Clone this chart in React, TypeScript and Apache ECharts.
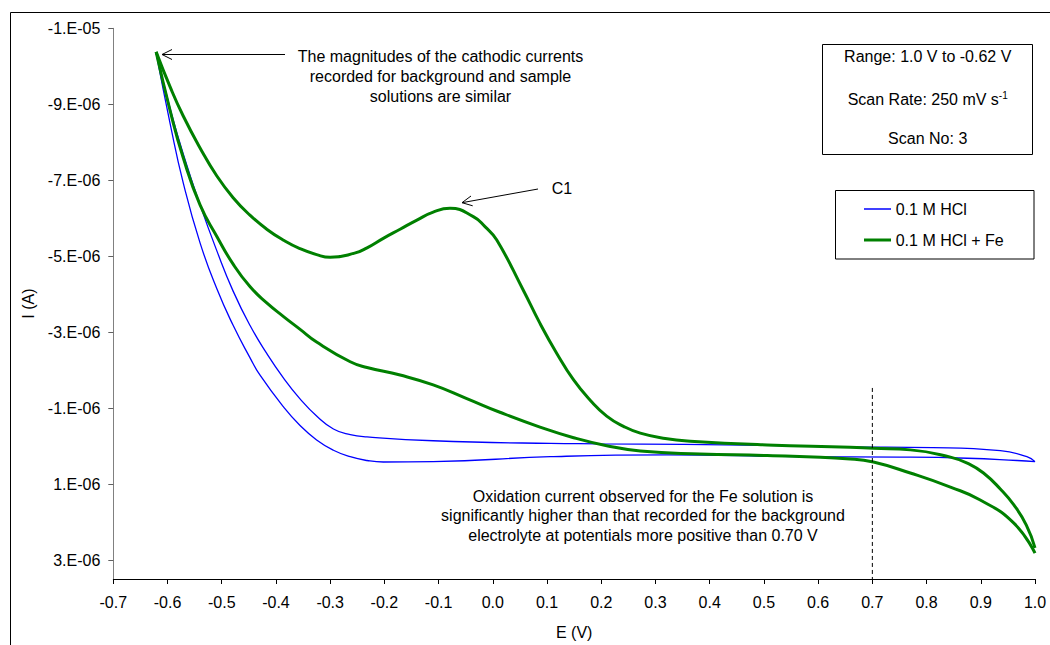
import React, { useEffect, useRef } from "react";
import * as echarts from "echarts";

// ---- Data (E in V, I in A) ----
// 0.1 M HCl, sweep from 1.0 V towards -0.62 V
const hclSweepAE = [1.0, 0.985, 0.936, 0.812, 0.646, 0.506, 0.198, 0.106, -0.11, -0.232, -0.263, -0.294, -0.325, -0.356, -0.386, -0.417, -0.448, -0.479, -0.509, -0.54, -0.571, -0.595, -0.621];
const hclSweepAI = [0.41e-6, 0.28e-6, 0.12e-6, 0.04e-6, 0.02e-6, -0.02e-6, -0.06e-6, -0.07e-6, -0.14e-6, -0.24e-6, -0.3e-6, -0.45e-6, -0.79e-6, -1.25e-6, -1.79e-6, -2.44e-6, -3.18e-6, -4.08e-6, -5.14e-6, -6.35e-6, -7.69e-6, -8.88e-6, -10.35e-6];
// 0.1 M HCl, return sweep from -0.62 V to 1.0 V
const hclSweepBE = [-0.621, -0.595, -0.571, -0.54, -0.509, -0.479, -0.448, -0.429, -0.386, -0.356, -0.325, -0.294, -0.263, -0.232, -0.202, -0.11, 0.106, 0.321, 0.567, 0.751, 0.875, 0.967, 1.0];
const hclSweepBI = [-10.35e-6, -8.48e-6, -6.93e-6, -5.35e-6, -4.14e-6, -3.18e-6, -2.33e-6, -1.86e-6, -1.03e-6, -0.55e-6, -0.16e-6, 0.11e-6, 0.28e-6, 0.38e-6, 0.42e-6, 0.41e-6, 0.28e-6, 0.23e-6, 0.28e-6, 0.29e-6, 0.32e-6, 0.38e-6, 0.41e-6];

// 0.1 M HCl + Fe, sweep from 1.0 V towards -0.62 V (with C1 peak)
const feSweepAE = [1.0, 0.984, 0.961, 0.936, 0.905, 0.877, 0.844, 0.77, 0.702, 0.659, 0.506, 0.364, 0.318, 0.272, 0.241, 0.21, 0.18, 0.149, 0.118, 0.087, 0.056, 0.007, -0.014, -0.036, -0.079, -0.11, -0.14, -0.171, -0.202, -0.232, -0.255, -0.3, -0.325, -0.356, -0.386, -0.417, -0.448, -0.479, -0.509, -0.54, -0.571, -0.595, -0.621];
const feSweepAI = [2.68e-6, 2.08e-6, 1.55e-6, 1.13e-6, 0.71e-6, 0.46e-6, 0.29e-6, 0.1e-6, 0.06e-6, 0.03e-6, -0.03e-6, -0.13e-6, -0.2e-6, -0.34e-6, -0.52e-6, -0.79e-6, -1.2e-6, -1.74e-6, -2.44e-6, -3.23e-6, -4.11e-6, -5.43e-6, -5.77e-6, -6.04e-6, -6.26e-6, -6.16e-6, -5.95e-6, -5.71e-6, -5.47e-6, -5.22e-6, -5.08e-6, -4.97e-6, -5.04e-6, -5.2e-6, -5.42e-6, -5.71e-6, -6.08e-6, -6.54e-6, -7.11e-6, -7.85e-6, -8.69e-6, -9.45e-6, -10.38e-6];
// 0.1 M HCl + Fe, return sweep from -0.62 V to 1.0 V
const feSweepBE = [-0.621, -0.595, -0.571, -0.54, -0.509, -0.479, -0.448, -0.417, -0.386, -0.356, -0.325, -0.263, -0.232, -0.171, -0.11, -0.048, 0.013, 0.087, 0.149, 0.21, 0.272, 0.382, 0.506, 0.659, 0.702, 0.77, 0.844, 0.899, 0.961, 1.0];
const feSweepBI = [-10.38e-6, -8.82e-6, -7.59e-6, -6.35e-6, -5.52e-6, -4.79e-6, -4.2e-6, -3.77e-6, -3.41e-6, -3.08e-6, -2.74e-6, -2.22e-6, -2.07e-6, -1.87e-6, -1.61e-6, -1.25e-6, -0.89e-6, -0.5e-6, -0.22e-6, -0.01e-6, 0.13e-6, 0.21e-6, 0.25e-6, 0.34e-6, 0.42e-6, 0.71e-6, 1.08e-6, 1.42e-6, 2.03e-6, 2.82e-6];

// Marker line at 0.70 V
const markerE = [0.7, 0.7];
const markerI = [-1.53e-6, 3.5e-6];

// Axis ticks
const yTickValues = [-1.1e-5, -9e-6, -7e-6, -5e-6, -3e-6, -1e-6, 1e-6, 3e-6];
const xMin = -0.7;
const xMax = 1.0;
const xStep = 0.1;
const yMin = -1.1e-5;
const yMax = 3.5e-6;

const seriesNames = ["0.1 M HCl", "0.1 M HCl + Fe"];

const FONT = "Liberation Sans, Arial, Helvetica, sans-serif";

const zip = (xs: number[], ys: number[]) => xs.map((x, i) => [x, ys[i]]);

const fmtExp = (v: number) => {
  const s = v.toExponential(0);
  const [m, e] = s.split("e");
  const n = parseInt(e, 10);
  return `${m}.E${n < 0 ? "-" : "+"}${String(Math.abs(n)).padStart(2, "0")}`;
};

const fmtX = (v: number) => {
  if (Math.abs(v) < 1e-9) return "0.0";
  return v.toFixed(1);
};

export default function App() {
  const ref = useRef<HTMLDivElement>(null);

  useEffect(() => {
    document.body.style.margin = "0";
    if (!ref.current) return;
    const chart = echarts.init(ref.current, undefined, { renderer: "svg" });

    const blue = "#0000FF";
    const green = "#008000";
    const smooth = 0.5;

    const textStyle = (text: string, extra: any = {}) => ({
      text,
      fill: "#000",
      font: `16px ${FONT}`,
      ...extra,
    });

    const curve = (name: string, xs: number[], ys: number[], color: string, width: number) => ({
      name,
      type: "line",
      data: zip(xs, ys),
      showSymbol: false,
      symbol: "none",
      smooth,
      lineStyle: { color, width },
      silent: true,
    });

    chart.setOption({
      animation: false,
      backgroundColor: "#fff",
      grid: { left: 113.3, right: 15, top: 28.3, bottom: 66, containLabel: false },
      xAxis: {
        type: "value",
        min: xMin,
        max: xMax,
        interval: xStep,
        name: "E (V)",
        nameLocation: "middle",
        nameGap: 45,
        nameTextStyle: { fontSize: 16, color: "#000", fontFamily: FONT },
        axisLine: { show: true, onZero: false, lineStyle: { color: "#000", width: 1 } },
        axisTick: { show: true, length: 5, lineStyle: { color: "#000" } },
        axisLabel: { fontSize: 16, color: "#000", fontFamily: FONT, margin: 15, formatter: fmtX },
        splitLine: { show: false },
      },
      yAxis: {
        type: "value",
        inverse: true,
        min: yMin,
        max: yMax,
        name: "I (A)",
        nameLocation: "middle",
        nameGap: 77,
        nameRotate: 90,
        nameTextStyle: { fontSize: 16, color: "#000", fontFamily: FONT },
        axisLine: { show: true, onZero: false, lineStyle: { color: "#808080", width: 1 } },
        axisTick: { show: true, length: 5, customValues: yTickValues, lineStyle: { color: "#606060" } },
        axisLabel: {
          fontSize: 16,
          color: "#000",
          fontFamily: FONT,
          margin: 13,
          customValues: yTickValues,
          formatter: fmtExp,
        },
        splitLine: { show: false },
      },
      series: [
        curve(seriesNames[0], hclSweepAE, hclSweepAI, blue, 1.3),
        curve(seriesNames[0], hclSweepBE, hclSweepBI, blue, 1.3),
        curve(seriesNames[1], feSweepAE, feSweepAI, green, 3),
        curve(seriesNames[1], feSweepBE, feSweepBI, green, 3),
        {
          name: "marker",
          type: "line",
          data: zip(markerE, markerI),
          showSymbol: false,
          symbol: "none",
          lineStyle: { color: "#000", width: 1, type: [4, 3] },
          silent: true,
        },
      ],
      graphic: [
        // outer frame
        {
          type: "rect",
          silent: true,
          shape: { x: 10.5, y: 12.5, width: 1100, height: 700 },
          style: { fill: "none", stroke: "#000", lineWidth: 1 },
        },
        // info box
        {
          type: "rect",
          silent: true,
          shape: { x: 822.5, y: 44.5, width: 210, height: 110 },
          style: { fill: "#fff", stroke: "#000", lineWidth: 1 },
        },
        {
          type: "text",
          silent: true,
          x: 927.7,
          y: 56.7,
          style: textStyle("Range: 1.0 V to -0.62 V", { align: "center", verticalAlign: "middle", textAlign: "center", textVerticalAlign: "middle" }),
        },
        {
          type: "text",
          silent: true,
          x: 927.7,
          y: 99,
          style: {
            text: "{a|Scan Rate: 250 mV s}{b|-1}",
            align: "center",
            verticalAlign: "middle",
            textAlign: "center",
            textVerticalAlign: "middle",
            fill: "#000",
            font: `16px ${FONT}`,
            rich: {
              a: { fontSize: 16, fontFamily: FONT, fill: "#000", color: "#000", lineHeight: 18 },
              b: { fontSize: 10, fontFamily: FONT, fill: "#000", color: "#000", lineHeight: 10, verticalAlign: "top" },
            },
          },
        },
        {
          type: "text",
          silent: true,
          x: 927.7,
          y: 138,
          style: textStyle("Scan No: 3", { align: "center", verticalAlign: "middle", textAlign: "center", textVerticalAlign: "middle" }),
        },
        // legend box
        {
          type: "rect",
          silent: true,
          shape: { x: 835.5, y: 190.5, width: 198.5, height: 68.5 },
          style: { fill: "#fff", stroke: "#000", lineWidth: 1 },
        },
        {
          type: "line",
          silent: true,
          shape: { x1: 864, y1: 209, x2: 891, y2: 209 },
          style: { stroke: blue, lineWidth: 1.5 },
        },
        {
          type: "text",
          silent: true,
          x: 895.7,
          y: 209,
          style: textStyle(seriesNames[0], { align: "left", verticalAlign: "middle", textAlign: "left", textVerticalAlign: "middle" }),
        },
        {
          type: "line",
          silent: true,
          shape: { x1: 864, y1: 240, x2: 891, y2: 240 },
          style: { stroke: green, lineWidth: 3 },
        },
        {
          type: "text",
          silent: true,
          x: 895.7,
          y: 240,
          style: textStyle(seriesNames[1], { align: "left", verticalAlign: "middle", textAlign: "left", textVerticalAlign: "middle" }),
        },
        // annotation 1
        {
          type: "text",
          silent: true,
          x: 440.5,
          y: 46,
          style: textStyle(
            "The magnitudes of the cathodic currents\nrecorded for background and sample\nsolutions are similar",
            { align: "center", verticalAlign: "top", textAlign: "center", textVerticalAlign: "top", lineHeight: 20 }
          ),
        },
        {
          type: "line",
          silent: true,
          shape: { x1: 285, y1: 54.5, x2: 162, y2: 54.5 },
          style: { stroke: "#000", lineWidth: 1 },
        },
        {
          type: "polyline",
          silent: true,
          shape: { points: [[172, 49.5], [162, 54.5], [172, 59.5]] },
          style: { stroke: "#000", lineWidth: 1, fill: "none" },
        },
        // C1 annotation
        {
          type: "text",
          silent: true,
          x: 551.7,
          y: 188.7,
          style: textStyle("C1", { align: "left", verticalAlign: "middle", textAlign: "left", textVerticalAlign: "middle" }),
        },
        {
          type: "line",
          silent: true,
          shape: { x1: 538, y1: 189, x2: 462, y2: 202.7 },
          style: { stroke: "#000", lineWidth: 1 },
        },
        {
          type: "polyline",
          silent: true,
          shape: { points: [[472.7, 205.8], [462, 202.7], [471, 196]] },
          style: { stroke: "#000", lineWidth: 1, fill: "none" },
        },
        // annotation 2
        {
          type: "text",
          silent: true,
          x: 643,
          y: 487,
          style: textStyle(
            "Oxidation current observed for the Fe solution is\nsignificantly higher than that recorded for the background\nelectrolyte at potentials more positive than 0.70 V",
            { align: "center", verticalAlign: "top", textAlign: "center", textVerticalAlign: "top", lineHeight: 19.3 }
          ),
        },
      ],
    });

    return () => chart.dispose();
  }, []);

  return <div ref={ref} style={{ width: 1050, height: 645 }} />;
}
